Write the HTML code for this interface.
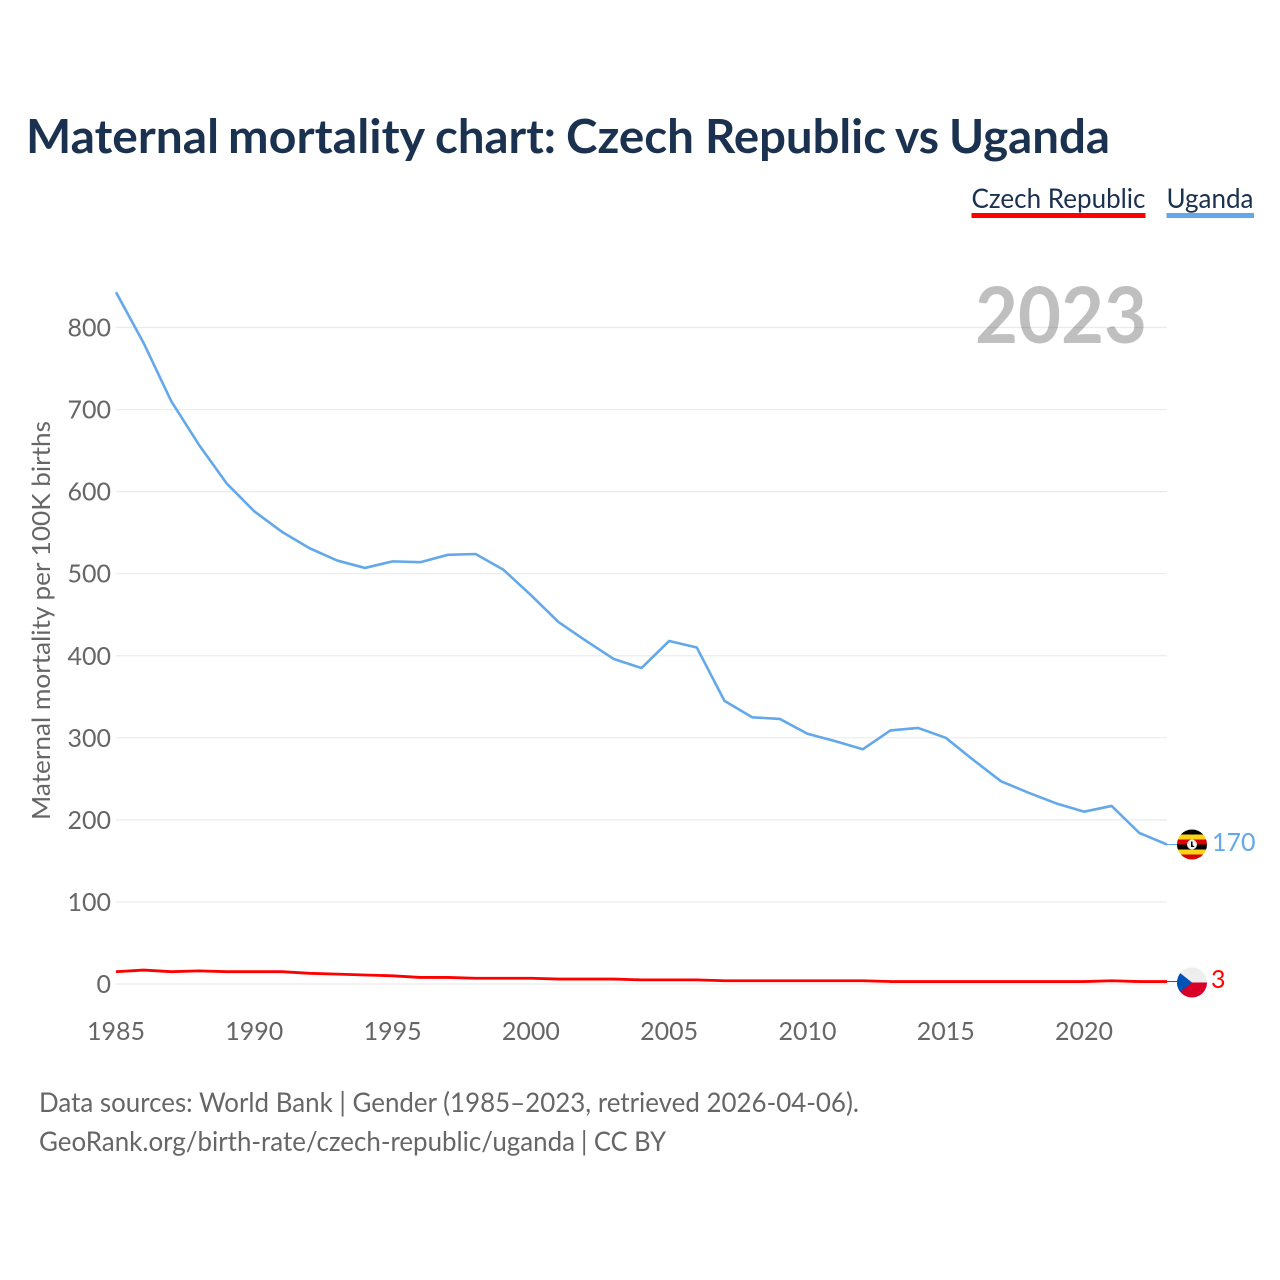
<!DOCTYPE html>
<html lang="en">
<head>
<meta charset="utf-8">
<title>Maternal mortality chart: Czech Republic vs Uganda</title>
<style>
html,body{margin:0;padding:0;background:#fff;width:1280px;height:1280px;overflow:hidden}
svg{display:block}
text{font-family:"Lato","Carlito","Liberation Sans",sans-serif}
</style>
</head>
<body>
<svg id="chart" xmlns="http://www.w3.org/2000/svg" width="1280" height="1280" viewBox="0 0 1280 1280">
  <text y="153" font-size="47" font-weight="700" fill="#1a3150"><tspan x="26" textLength="193" lengthAdjust="spacingAndGlyphs">Maternal</tspan> <tspan x="228" textLength="196" lengthAdjust="spacingAndGlyphs">mortality</tspan> <tspan x="435" textLength="121" lengthAdjust="spacingAndGlyphs">chart:</tspan> <tspan x="566" textLength="128" lengthAdjust="spacingAndGlyphs">Czech</tspan> <tspan x="705" textLength="181" lengthAdjust="spacingAndGlyphs">Republic</tspan> <tspan x="895" textLength="44" lengthAdjust="spacingAndGlyphs">vs</tspan> <tspan x="949" textLength="161" lengthAdjust="spacingAndGlyphs">Uganda</tspan></text>
  <g>
    <g>
      <text x="971.500" y="208" font-size="27" fill="#1a3150" textLength="174" lengthAdjust="spacingAndGlyphs">Czech Republic</text>
      <rect x="971.500" y="213" width="174" height="5" fill="#ff0000"/>
    </g>
    <g>
      <text x="1166.500" y="208" font-size="27" fill="#1a3150" textLength="87" lengthAdjust="spacingAndGlyphs">Uganda</text>
      <rect x="1166.500" y="213" width="87.500" height="5" fill="#63a8ea"/>
    </g>
  </g>
  <g id="grid"></g>
  <text x="1147" y="343" font-size="78" font-weight="700" fill="#000000" fill-opacity="0.25" text-anchor="end" textLength="172" lengthAdjust="spacingAndGlyphs">2023</text>
  <g id="yticks"></g>
  <g id="xticks"></g>
  <text transform="translate(50,820) rotate(-90)" font-size="25" fill="#666666" textLength="399" lengthAdjust="spacingAndGlyphs">Maternal mortality per 100K births</text>
  <g id="series"></g>
  <defs>
    <clipPath id="flag-ug-clip"><circle cx="1192" cy="844.500" r="15"/></clipPath>
    <clipPath id="flag-cz-clip"><circle cx="1192" cy="982.500" r="15"/></clipPath>
  </defs>
  <g clip-path="url(#flag-ug-clip)">
    <rect x="1177" y="829" width="30" height="5.500" fill="#000000"/>
    <rect x="1177" y="834.500" width="30" height="5" fill="#fcd116"/>
    <rect x="1177" y="839.500" width="30" height="5" fill="#d90000"/>
    <rect x="1177" y="844.500" width="30" height="5" fill="#000000"/>
    <rect x="1177" y="849.500" width="30" height="5" fill="#fcd116"/>
    <rect x="1177" y="854.500" width="30" height="6" fill="#d90000"/>
    <circle cx="1192" cy="844.500" r="5" fill="#f0f0f0"/>
    <path d="M1191 841.500 L1192.500 841.500 L1192.500 845 L1194.500 847 L1191 847 Z" fill="#000000"/>
  </g>
  <g clip-path="url(#flag-cz-clip)">
    <rect x="1177" y="967" width="30" height="15.500" fill="#eeeeee"/>
    <rect x="1177" y="982.500" width="30" height="15.500" fill="#d80027"/>
    <path d="M1177 970.500 L1192 982.500 L1177 994.500 Z" fill="#0052b4"/>
  </g>
  <text x="1212" y="851" font-size="25" fill="#63a8ea" id="label-ug"></text>
  <text x="1211" y="988" font-size="25" fill="#ff0000" id="label-cz"></text>
  <g>
    <text x="39" y="1112" font-size="27" fill="#666666" textLength="820" lengthAdjust="spacingAndGlyphs">Data sources: World Bank | Gender (1985–2023, retrieved 2026-04-06).</text>
    <text y="1151" font-size="27" fill="#666666"><tspan x="39" textLength="536" lengthAdjust="spacingAndGlyphs">GeoRank.org/birth-rate/czech-republic/uganda</tspan> <tspan x="581" textLength="85" lengthAdjust="spacingAndGlyphs">| CC BY</tspan></text>
  </g>
</svg>
<script>
const years = [1985,1986,1987,1988,1989,1990,1991,1992,1993,1994,1995,1996,1997,1998,1999,2000,2001,2002,2003,2004,2005,2006,2007,2008,2009,2010,2011,2012,2013,2014,2015,2016,2017,2018,2019,2020,2021,2022,2023];
const ugandaValues = [843,781,710,657,610,576,551,531,516,507,515,514,523,524,505,474,441,418,396,385,418,410,345,325,323,305,296,286,309,312,300,273,247,233,220,210,217,184,170];
const czechValues = [15,17,15,16,15,15,15,13,12,11,10,8,8,7,7,7,6,6,6,5,5,5,4,4,4,4,4,4,3,3,3,3,3,3,3,3,4,3,3];
const yTickValues = [0,100,200,300,400,500,600,700,800];
const xTickValues = [1985,1990,1995,2000,2005,2010,2015,2020];

const NS = 'http://www.w3.org/2000/svg';
const xScale = function (year) { return 116 + (year - 1985) * (1167 - 116) / (2023 - 1985); };
const yScale = function (value) { return 984 - value * (984 - 327.5) / 800; };

function make(tag, attrs, parent) {
  const el = document.createElementNS(NS, tag);
  Object.keys(attrs).forEach(function (k) { el.setAttribute(k, attrs[k]); });
  parent.appendChild(el);
  return el;
}

const gridGroup = document.getElementById('grid');
const yTickGroup = document.getElementById('yticks');
yTickValues.forEach(function (v) {
  const line = make('line', {x1: 116, x2: 1167, y1: yScale(v), y2: yScale(v), stroke: '#ebebeb', 'stroke-width': 1.2}, gridGroup);
  
  
  const label = make('text', {x: 111, y: yScale(v) + 9, 'font-size': 25, fill: '#666666', 'text-anchor': 'end'}, yTickGroup);
  
  
  label.textContent = v;
});

const xTickGroup = document.getElementById('xticks');
xTickValues.forEach(function (year) {
  const label = make('text', {x: xScale(year), y: 1040, 'font-size': 25, fill: '#666666', 'text-anchor': 'middle'}, xTickGroup);
  
  
  label.textContent = year;
});

function drawSeries(values, color, name, width) {
  const group = document.getElementById('series');
  const d = values.map(function (v, i) {
    return (i ? 'L' : 'M') + xScale(years[i]).toFixed(2) + ' ' + yScale(v).toFixed(2);
  }).join(' ');
  const lastY = yScale(values[values.length - 1]);
  const path = make('path', {d: d, fill: 'none', stroke: color, 'stroke-width': width, 'stroke-linejoin': 'round'}, group);
  
  
  const tail = make('line', {x1: xScale(2023), x2: 1177, y1: lastY, y2: lastY, stroke: color, 'stroke-width': 1}, group);
  
  
}
drawSeries(czechValues, '#ff0000', 'czech-republic', 2.8);
drawSeries(ugandaValues, '#63a8ea', 'uganda', 2.6);

document.getElementById('label-ug').textContent = ugandaValues[ugandaValues.length - 1];
document.getElementById('label-cz').textContent = czechValues[czechValues.length - 1];
</script>
</body>
</html>
